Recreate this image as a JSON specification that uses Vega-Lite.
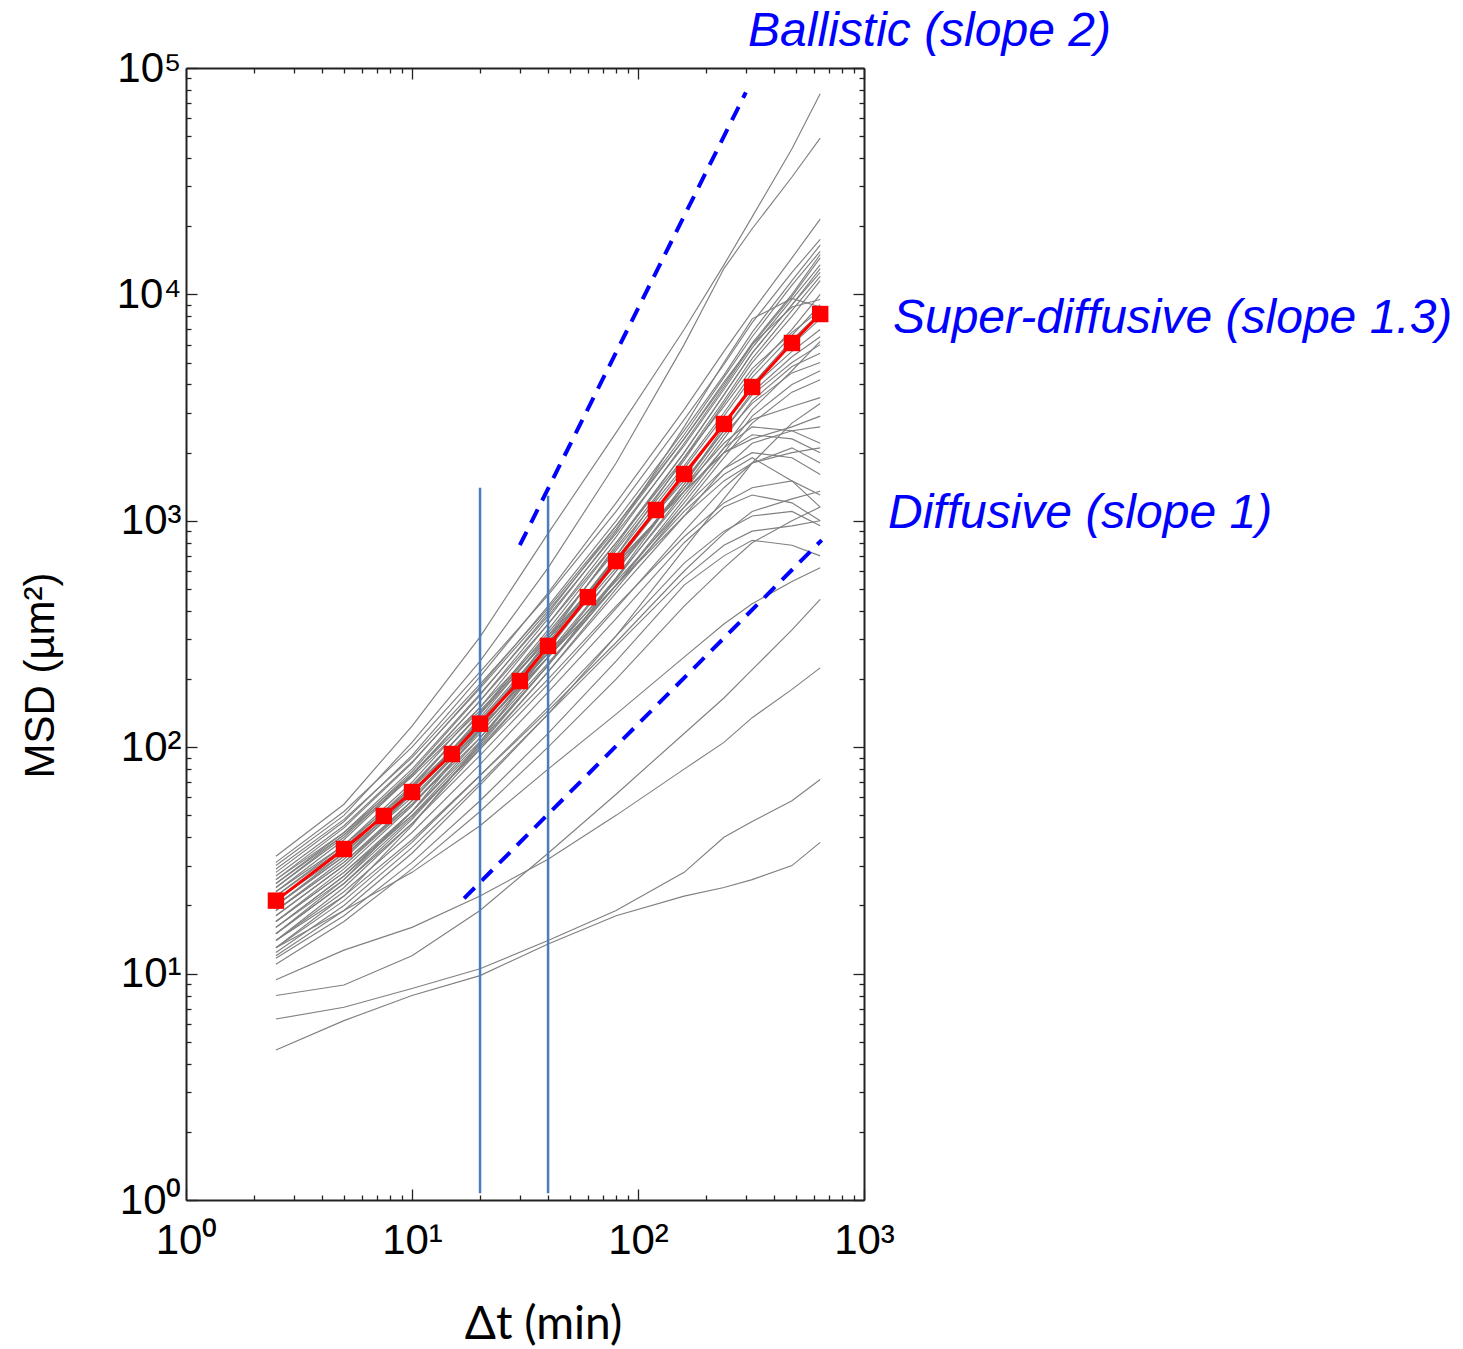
{
"$schema":"https://vega.github.io/schema/vega-lite/v6.json",
"width":678,"height":1132,
"autosize":{"type":"none"},
"padding":{"left":186,"top":68,"right":599,"bottom":149},
"background":"white",
"config":{"view":{"stroke":null},"axis":{"grid":false}},
"datasets":{
"traces":[
{"id":1,"t":2.5,"m":33},{"id":1,"t":5,"m":56},{"id":1,"t":10,"m":124},{"id":1,"t":20,"m":307},{"id":1,"t":40,"m":880},{"id":1,"t":80,"m":2450},{"id":1,"t":160,"m":7000},{"id":1,"t":240,"m":13500},{"id":1,"t":320,"m":22000},{"id":1,"t":480,"m":44000},{"id":1,"t":640,"m":77000},
{"id":2,"t":2.5,"m":30},{"id":2,"t":5,"m":50},{"id":2,"t":10,"m":105},{"id":2,"t":20,"m":240},{"id":2,"t":40,"m":620},{"id":2,"t":80,"m":1800},{"id":2,"t":160,"m":6000},{"id":2,"t":240,"m":13000},{"id":2,"t":320,"m":19500},{"id":2,"t":480,"m":33000},{"id":2,"t":640,"m":49000},
{"id":3,"t":2.5,"m":28},{"id":3,"t":5,"m":47},{"id":3,"t":10,"m":92},{"id":3,"t":20,"m":205},{"id":3,"t":40,"m":480},{"id":3,"t":80,"m":1200},{"id":3,"t":160,"m":3100},{"id":3,"t":240,"m":5600},{"id":3,"t":320,"m":8400},{"id":3,"t":480,"m":14500},{"id":3,"t":640,"m":21500},
{"id":4,"t":2.5,"m":31},{"id":4,"t":5,"m":52},{"id":4,"t":10,"m":100},{"id":4,"t":20,"m":215},{"id":4,"t":40,"m":470},{"id":4,"t":80,"m":1100},{"id":4,"t":160,"m":2800},{"id":4,"t":240,"m":4900},{"id":4,"t":320,"m":7500},{"id":4,"t":480,"m":12500},{"id":4,"t":640,"m":17500},
{"id":5,"t":2.5,"m":26},{"id":5,"t":5,"m":44},{"id":5,"t":10,"m":85},{"id":5,"t":20,"m":185},{"id":5,"t":40,"m":420},{"id":5,"t":80,"m":1000},{"id":5,"t":160,"m":2500},{"id":5,"t":240,"m":4400},{"id":5,"t":320,"m":6800},{"id":5,"t":480,"m":11500},{"id":5,"t":640,"m":16500},
{"id":6,"t":2.5,"m":24},{"id":6,"t":5,"m":41},{"id":6,"t":10,"m":78},{"id":6,"t":20,"m":170},{"id":6,"t":40,"m":390},{"id":6,"t":80,"m":950},{"id":6,"t":160,"m":2400},{"id":6,"t":240,"m":4300},{"id":6,"t":320,"m":6500},{"id":6,"t":480,"m":11000},{"id":6,"t":640,"m":15500},
{"id":7,"t":2.5,"m":29},{"id":7,"t":5,"m":48},{"id":7,"t":10,"m":90},{"id":7,"t":20,"m":190},{"id":7,"t":40,"m":410},{"id":7,"t":80,"m":950},{"id":7,"t":160,"m":2300},{"id":7,"t":240,"m":4000},{"id":7,"t":320,"m":6100},{"id":7,"t":480,"m":10000},{"id":7,"t":640,"m":15000},
{"id":8,"t":2.5,"m":22},{"id":8,"t":5,"m":37},{"id":8,"t":10,"m":70},{"id":8,"t":20,"m":150},{"id":8,"t":40,"m":350},{"id":8,"t":80,"m":850},{"id":8,"t":160,"m":2200},{"id":8,"t":240,"m":3900},{"id":8,"t":320,"m":6000},{"id":8,"t":480,"m":9800},{"id":8,"t":640,"m":14500},
{"id":9,"t":2.5,"m":25},{"id":9,"t":5,"m":42},{"id":9,"t":10,"m":80},{"id":9,"t":20,"m":172},{"id":9,"t":40,"m":380},{"id":9,"t":80,"m":880},{"id":9,"t":160,"m":2150},{"id":9,"t":240,"m":3800},{"id":9,"t":320,"m":5800},{"id":9,"t":480,"m":9500},{"id":9,"t":640,"m":13500},
{"id":10,"t":2.5,"m":20},{"id":10,"t":5,"m":34},{"id":10,"t":10,"m":66},{"id":10,"t":20,"m":142},{"id":10,"t":40,"m":330},{"id":10,"t":80,"m":800},{"id":10,"t":160,"m":2000},{"id":10,"t":240,"m":3600},{"id":10,"t":320,"m":5500},{"id":10,"t":480,"m":9000},{"id":10,"t":640,"m":12500},
{"id":11,"t":2.5,"m":27},{"id":11,"t":5,"m":45},{"id":11,"t":10,"m":86},{"id":11,"t":20,"m":182},{"id":11,"t":40,"m":400},{"id":11,"t":80,"m":920},{"id":11,"t":160,"m":2300},{"id":11,"t":240,"m":4100},{"id":11,"t":320,"m":6000},{"id":11,"t":480,"m":8800},{"id":11,"t":640,"m":9500},
{"id":12,"t":2.5,"m":23},{"id":12,"t":5,"m":39},{"id":12,"t":10,"m":75},{"id":12,"t":20,"m":160},{"id":12,"t":40,"m":370},{"id":12,"t":80,"m":900},{"id":12,"t":160,"m":2600},{"id":12,"t":240,"m":5000},{"id":12,"t":320,"m":7800},{"id":12,"t":480,"m":9600},{"id":12,"t":640,"m":8800},
{"id":13,"t":2.5,"m":19},{"id":13,"t":5,"m":32},{"id":13,"t":10,"m":62},{"id":13,"t":20,"m":135},{"id":13,"t":40,"m":310},{"id":13,"t":80,"m":760},{"id":13,"t":160,"m":1850},{"id":13,"t":240,"m":3300},{"id":13,"t":320,"m":5000},{"id":13,"t":480,"m":8000},{"id":13,"t":640,"m":11500},
{"id":14,"t":2.5,"m":21},{"id":14,"t":5,"m":35},{"id":14,"t":10,"m":67},{"id":14,"t":20,"m":140},{"id":14,"t":40,"m":320},{"id":14,"t":80,"m":740},{"id":14,"t":160,"m":1750},{"id":14,"t":240,"m":3000},{"id":14,"t":320,"m":4500},{"id":14,"t":480,"m":7000},{"id":14,"t":640,"m":10000},
{"id":15,"t":2.5,"m":18},{"id":15,"t":5,"m":30},{"id":15,"t":10,"m":58},{"id":15,"t":20,"m":125},{"id":15,"t":40,"m":290},{"id":15,"t":80,"m":700},{"id":15,"t":160,"m":1700},{"id":15,"t":240,"m":2900},{"id":15,"t":320,"m":4300},{"id":15,"t":480,"m":6600},{"id":15,"t":640,"m":9000},
{"id":16,"t":2.5,"m":24},{"id":16,"t":5,"m":40},{"id":16,"t":10,"m":76},{"id":16,"t":20,"m":160},{"id":16,"t":40,"m":350},{"id":16,"t":80,"m":800},{"id":16,"t":160,"m":1900},{"id":16,"t":240,"m":3200},{"id":16,"t":320,"m":4700},{"id":16,"t":480,"m":6800},{"id":16,"t":640,"m":8500},
{"id":17,"t":2.5,"m":17},{"id":17,"t":5,"m":29},{"id":17,"t":10,"m":55},{"id":17,"t":20,"m":118},{"id":17,"t":40,"m":270},{"id":17,"t":80,"m":650},{"id":17,"t":160,"m":1550},{"id":17,"t":240,"m":2700},{"id":17,"t":320,"m":4000},{"id":17,"t":480,"m":6000},{"id":17,"t":640,"m":7800},
{"id":18,"t":2.5,"m":20},{"id":18,"t":5,"m":33},{"id":18,"t":10,"m":63},{"id":18,"t":20,"m":132},{"id":18,"t":40,"m":290},{"id":18,"t":80,"m":680},{"id":18,"t":160,"m":1600},{"id":18,"t":240,"m":2700},{"id":18,"t":320,"m":3900},{"id":18,"t":480,"m":5600},{"id":18,"t":640,"m":7000},
{"id":19,"t":2.5,"m":16},{"id":19,"t":5,"m":27},{"id":19,"t":10,"m":52},{"id":19,"t":20,"m":110},{"id":19,"t":40,"m":250},{"id":19,"t":80,"m":600},{"id":19,"t":160,"m":1450},{"id":19,"t":240,"m":2500},{"id":19,"t":320,"m":3700},{"id":19,"t":480,"m":5300},{"id":19,"t":640,"m":6500},
{"id":20,"t":2.5,"m":22},{"id":20,"t":5,"m":36},{"id":20,"t":10,"m":68},{"id":20,"t":20,"m":140},{"id":20,"t":40,"m":300},{"id":20,"t":80,"m":680},{"id":20,"t":160,"m":1500},{"id":20,"t":240,"m":2500},{"id":20,"t":320,"m":3600},{"id":20,"t":480,"m":5000},{"id":20,"t":640,"m":6000},
{"id":21,"t":2.5,"m":15},{"id":21,"t":5,"m":25},{"id":21,"t":10,"m":48},{"id":21,"t":20,"m":102},{"id":21,"t":40,"m":230},{"id":21,"t":80,"m":550},{"id":21,"t":160,"m":1350},{"id":21,"t":240,"m":2300},{"id":21,"t":320,"m":3400},{"id":21,"t":480,"m":4800},{"id":21,"t":640,"m":5500},
{"id":22,"t":2.5,"m":19},{"id":22,"t":5,"m":31},{"id":22,"t":10,"m":58},{"id":22,"t":20,"m":120},{"id":22,"t":40,"m":260},{"id":22,"t":80,"m":600},{"id":22,"t":160,"m":1400},{"id":22,"t":240,"m":2400},{"id":22,"t":320,"m":3300},{"id":22,"t":480,"m":4500},{"id":22,"t":640,"m":5000},
{"id":23,"t":2.5,"m":17},{"id":23,"t":5,"m":28},{"id":23,"t":10,"m":52},{"id":23,"t":20,"m":106},{"id":23,"t":40,"m":230},{"id":23,"t":80,"m":520},{"id":23,"t":160,"m":1200},{"id":23,"t":240,"m":2000},{"id":23,"t":320,"m":2900},{"id":23,"t":480,"m":4000},{"id":23,"t":640,"m":4600},
{"id":24,"t":2.5,"m":14},{"id":24,"t":5,"m":24},{"id":24,"t":10,"m":46},{"id":24,"t":20,"m":98},{"id":24,"t":40,"m":215},{"id":24,"t":80,"m":500},{"id":24,"t":160,"m":1150},{"id":24,"t":240,"m":1900},{"id":24,"t":320,"m":2700},{"id":24,"t":480,"m":3700},{"id":24,"t":640,"m":4200},
{"id":25,"t":2.5,"m":21},{"id":25,"t":5,"m":35},{"id":25,"t":10,"m":64},{"id":25,"t":20,"m":130},{"id":25,"t":40,"m":280},{"id":25,"t":80,"m":620},{"id":25,"t":160,"m":1400},{"id":25,"t":240,"m":2200},{"id":25,"t":320,"m":2800},{"id":25,"t":480,"m":3200},{"id":25,"t":640,"m":3500},
{"id":26,"t":2.5,"m":18},{"id":26,"t":5,"m":30},{"id":26,"t":10,"m":56},{"id":26,"t":20,"m":115},{"id":26,"t":40,"m":250},{"id":26,"t":80,"m":560},{"id":26,"t":160,"m":1300},{"id":26,"t":240,"m":2100},{"id":26,"t":320,"m":2600},{"id":26,"t":480,"m":2500},{"id":26,"t":640,"m":2200},
{"id":27,"t":2.5,"m":16},{"id":27,"t":5,"m":26},{"id":27,"t":10,"m":49},{"id":27,"t":20,"m":100},{"id":27,"t":40,"m":215},{"id":27,"t":80,"m":480},{"id":27,"t":160,"m":1050},{"id":27,"t":240,"m":1700},{"id":27,"t":320,"m":2200},{"id":27,"t":480,"m":2500},{"id":27,"t":640,"m":2600},
{"id":28,"t":2.5,"m":20},{"id":28,"t":5,"m":33},{"id":28,"t":10,"m":60},{"id":28,"t":20,"m":120},{"id":28,"t":40,"m":250},{"id":28,"t":80,"m":520},{"id":28,"t":160,"m":1050},{"id":28,"t":240,"m":1500},{"id":28,"t":320,"m":1800},{"id":28,"t":480,"m":2000},{"id":28,"t":640,"m":2100},
{"id":29,"t":2.5,"m":15},{"id":29,"t":5,"m":25},{"id":29,"t":10,"m":46},{"id":29,"t":20,"m":92},{"id":29,"t":40,"m":190},{"id":29,"t":80,"m":410},{"id":29,"t":160,"m":900},{"id":29,"t":240,"m":1400},{"id":29,"t":320,"m":1800},{"id":29,"t":480,"m":2100},{"id":29,"t":640,"m":1800},
{"id":30,"t":2.5,"m":17},{"id":30,"t":5,"m":28},{"id":30,"t":10,"m":50},{"id":30,"t":20,"m":98},{"id":30,"t":40,"m":200},{"id":30,"t":80,"m":420},{"id":30,"t":160,"m":850},{"id":30,"t":240,"m":1200},{"id":30,"t":320,"m":1400},{"id":30,"t":480,"m":1500},{"id":30,"t":640,"m":1300},
{"id":31,"t":2.5,"m":14},{"id":31,"t":5,"m":23},{"id":31,"t":10,"m":42},{"id":31,"t":20,"m":84},{"id":31,"t":40,"m":175},{"id":31,"t":80,"m":370},{"id":31,"t":160,"m":800},{"id":31,"t":240,"m":1150},{"id":31,"t":320,"m":1300},{"id":31,"t":480,"m":1200},{"id":31,"t":640,"m":1000},
{"id":32,"t":2.5,"m":13},{"id":32,"t":5,"m":21},{"id":32,"t":10,"m":38},{"id":32,"t":20,"m":75},{"id":32,"t":40,"m":150},{"id":32,"t":80,"m":310},{"id":32,"t":160,"m":650},{"id":32,"t":240,"m":900},{"id":32,"t":320,"m":1050},{"id":32,"t":480,"m":1100},{"id":32,"t":640,"m":950},
{"id":33,"t":2.5,"m":12.4},{"id":33,"t":5,"m":20},{"id":33,"t":10,"m":36},{"id":33,"t":20,"m":70},{"id":33,"t":40,"m":140},{"id":33,"t":80,"m":280},{"id":33,"t":160,"m":560},{"id":33,"t":240,"m":780},{"id":33,"t":320,"m":900},{"id":33,"t":480,"m":950},{"id":33,"t":640,"m":1000},
{"id":34,"t":2.5,"m":11.7},{"id":34,"t":5,"m":18},{"id":34,"t":10,"m":31},{"id":34,"t":20,"m":58},{"id":34,"t":40,"m":115},{"id":34,"t":80,"m":240},{"id":34,"t":160,"m":520},{"id":34,"t":240,"m":700},{"id":34,"t":320,"m":820},{"id":34,"t":480,"m":780},{"id":34,"t":640,"m":700},
{"id":35,"t":2.5,"m":14},{"id":35,"t":5,"m":22},{"id":35,"t":10,"m":39},{"id":35,"t":20,"m":75},{"id":35,"t":40,"m":145},{"id":35,"t":80,"m":290},{"id":35,"t":160,"m":600},{"id":35,"t":240,"m":880},{"id":35,"t":320,"m":1100},{"id":35,"t":480,"m":1250},{"id":35,"t":640,"m":1350},
{"id":36,"t":2.5,"m":9.4},{"id":36,"t":5,"m":12.7},{"id":36,"t":10,"m":16},{"id":36,"t":20,"m":22},{"id":36,"t":40,"m":32},{"id":36,"t":80,"m":50},{"id":36,"t":160,"m":80},{"id":36,"t":240,"m":105},{"id":36,"t":320,"m":135},{"id":36,"t":480,"m":180},{"id":36,"t":640,"m":224},
{"id":37,"t":2.5,"m":8.0},{"id":37,"t":5,"m":8.9},{"id":37,"t":10,"m":12},{"id":37,"t":20,"m":19},{"id":37,"t":40,"m":34},{"id":37,"t":80,"m":62},{"id":37,"t":160,"m":115},{"id":37,"t":240,"m":165},{"id":37,"t":320,"m":220},{"id":37,"t":480,"m":330},{"id":37,"t":640,"m":450},
{"id":38,"t":2.5,"m":6.3},{"id":38,"t":5,"m":7.1},{"id":38,"t":10,"m":8.6},{"id":38,"t":20,"m":10.5},{"id":38,"t":40,"m":14},{"id":38,"t":80,"m":19},{"id":38,"t":160,"m":28},{"id":38,"t":240,"m":40},{"id":38,"t":320,"m":47},{"id":38,"t":480,"m":58},{"id":38,"t":640,"m":72},
{"id":39,"t":2.5,"m":4.6},{"id":39,"t":5,"m":6.2},{"id":39,"t":10,"m":8.0},{"id":39,"t":20,"m":9.8},{"id":39,"t":40,"m":13.5},{"id":39,"t":80,"m":18},{"id":39,"t":160,"m":22},{"id":39,"t":240,"m":24},{"id":39,"t":320,"m":26},{"id":39,"t":480,"m":30},{"id":39,"t":640,"m":38},
{"id":40,"t":2.5,"m":13},{"id":40,"t":5,"m":19},{"id":40,"t":10,"m":28},{"id":40,"t":20,"m":45},{"id":40,"t":40,"m":80},{"id":40,"t":80,"m":140},{"id":40,"t":160,"m":250},{"id":40,"t":240,"m":350},{"id":40,"t":320,"m":430},{"id":40,"t":480,"m":540},{"id":40,"t":640,"m":620},
{"id":41,"t":2.5,"m":15},{"id":41,"t":5,"m":26},{"id":41,"t":10,"m":52},{"id":41,"t":20,"m":120},{"id":41,"t":40,"m":300},{"id":41,"t":80,"m":780},{"id":41,"t":160,"m":2000},{"id":41,"t":240,"m":3600},{"id":41,"t":320,"m":5500},{"id":41,"t":480,"m":9000},{"id":41,"t":640,"m":13000},
{"id":42,"t":2.5,"m":13},{"id":42,"t":5,"m":22},{"id":42,"t":10,"m":45},{"id":42,"t":20,"m":105},{"id":42,"t":40,"m":270},{"id":42,"t":80,"m":700},{"id":42,"t":160,"m":1900},{"id":42,"t":240,"m":3400},{"id":42,"t":320,"m":5200},{"id":42,"t":480,"m":8500},{"id":42,"t":640,"m":12000},
{"id":43,"t":2.5,"m":26},{"id":43,"t":5,"m":42},{"id":43,"t":10,"m":76},{"id":43,"t":20,"m":150},{"id":43,"t":40,"m":310},{"id":43,"t":80,"m":650},{"id":43,"t":160,"m":1350},{"id":43,"t":240,"m":2000},{"id":43,"t":320,"m":2300},{"id":43,"t":480,"m":2600},{"id":43,"t":640,"m":2900},
{"id":44,"t":2.5,"m":23},{"id":44,"t":5,"m":37},{"id":44,"t":10,"m":66},{"id":44,"t":20,"m":128},{"id":44,"t":40,"m":260},{"id":44,"t":80,"m":540},{"id":44,"t":160,"m":1150},{"id":44,"t":240,"m":1700},{"id":44,"t":320,"m":2000},{"id":44,"t":480,"m":1900},{"id":44,"t":640,"m":1600},
{"id":45,"t":2.5,"m":12},{"id":45,"t":5,"m":19},{"id":45,"t":10,"m":34},{"id":45,"t":20,"m":68},{"id":45,"t":40,"m":140},{"id":45,"t":80,"m":310},{"id":45,"t":160,"m":750},{"id":45,"t":240,"m":1250},{"id":45,"t":320,"m":1800},{"id":45,"t":480,"m":2700},{"id":45,"t":640,"m":3300},
{"id":46,"t":2.5,"m":19},{"id":46,"t":5,"m":31},{"id":46,"t":10,"m":56},{"id":46,"t":20,"m":110},{"id":46,"t":40,"m":235},{"id":46,"t":80,"m":520},{"id":46,"t":160,"m":1250},{"id":46,"t":240,"m":2100},{"id":46,"t":320,"m":3100},{"id":46,"t":480,"m":4600},{"id":46,"t":640,"m":6200},
{"id":47,"t":2.5,"m":25},{"id":47,"t":5,"m":41},{"id":47,"t":10,"m":74},{"id":47,"t":20,"m":145},{"id":47,"t":40,"m":300},{"id":47,"t":80,"m":640},{"id":47,"t":160,"m":1350},{"id":47,"t":240,"m":2000},{"id":47,"t":320,"m":2400},{"id":47,"t":480,"m":2300},{"id":47,"t":640,"m":2000},
{"id":48,"t":2.5,"m":16},{"id":48,"t":5,"m":27},{"id":48,"t":10,"m":50},{"id":48,"t":20,"m":104},{"id":48,"t":40,"m":230},{"id":48,"t":80,"m":560},{"id":48,"t":160,"m":1450},{"id":48,"t":240,"m":2600},{"id":48,"t":320,"m":4000},{"id":48,"t":480,"m":6300},{"id":48,"t":640,"m":8300},
{"id":49,"t":2.5,"m":11},{"id":49,"t":5,"m":17},{"id":49,"t":10,"m":29},{"id":49,"t":20,"m":52},{"id":49,"t":40,"m":100},{"id":49,"t":80,"m":200},{"id":49,"t":160,"m":420},{"id":49,"t":240,"m":620},{"id":49,"t":320,"m":800},{"id":49,"t":480,"m":1000},{"id":49,"t":640,"m":1150},
{"id":50,"t":2.5,"m":21},{"id":50,"t":5,"m":34},{"id":50,"t":10,"m":62},{"id":50,"t":20,"m":122},{"id":50,"t":40,"m":250},{"id":50,"t":80,"m":520},{"id":50,"t":160,"m":1100},{"id":50,"t":240,"m":1600},{"id":50,"t":320,"m":1900},{"id":50,"t":480,"m":1500},{"id":50,"t":640,"m":1150}
],
"mean":[
{"t":2.5,"m":21},{"t":5,"m":35.5},{"t":7.5,"m":49.7},{"t":10,"m":63.4},{"t":15,"m":93.3},{"t":20,"m":127},{"t":30,"m":196},{"t":40,"m":280},{"t":60,"m":460},{"t":80,"m":664},{"t":120,"m":1116},{"t":160,"m":1610},{"t":240,"m":2678},{"t":320,"m":3900},{"t":480,"m":6100},{"t":640,"m":8190}
],
"guides":[
{"g":"ballistic","t":30,"m":780},{"g":"ballistic","t":300,"m":78000},
{"g":"diffusive","t":17,"m":21.5},{"g":"diffusive","t":650,"m":822}
],
"vlines":[
{"t":20,"lo":1.07,"hi":1400},{"t":40,"lo":1.07,"hi":1290}
],
"labels":[
{"label":"Ballistic (slope 2)","t":307,"m":125000},
{"label":"Super-diffusive (slope 1.3)","t":1343,"m":6750},
{"label":"Diffusive (slope 1)","t":1277,"m":929}
]
},
"resolve":{"axis":{"x":"independent","y":"independent"}},
"layer":[
{
"data":{"name":"traces"},
"mark":{"type":"line","color":"#808080","strokeWidth":1.15,"clip":true},
"encoding":{
"x":{"field":"t","type":"quantitative","scale":{"type":"log","domain":[1,1000],"nice":false},
"axis":{"orient":"bottom","values":[1,2,3,4,5,6,7,8,9,10,20,30,40,50,60,70,80,90,100,200,300,400,500,600,700,800,900,1000],
"tickSize":{"condition":{"test":"abs(log(datum.value)/LN10 - round(log(datum.value)/LN10)) < 0.001","value":-11},"value":-5},
"tickColor":"#222","tickWidth":1.3,"domainColor":"#222","domainWidth":2,
"labelExpr":"abs(log(datum.value)/LN10 - round(log(datum.value)/LN10)) < 0.001 ? '10' + ['⁰','¹','²','³','⁴','⁵'][round(log(datum.value)/LN10)] : ''",
"labelFont":"Liberation Sans","labelFontSize":42,"labelColor":"#000","labelPadding":31,"labelOverlap":false,"labelFlush":false,
"title":"Δt (min)","titleFont":"Lato","titleFontSize":46,"titleFontWeight":"normal","titleColor":"#000","titleX":357,"titleY":124,"titleAlign":"center","titleBaseline":"middle"}},
"y":{"field":"m","type":"quantitative","scale":{"type":"log","domain":[1,100000],"nice":false},
"axis":{"orient":"left","values":[1,2,3,4,5,6,7,8,9,10,20,30,40,50,60,70,80,90,100,200,300,400,500,600,700,800,900,1000,2000,3000,4000,5000,6000,7000,8000,9000,10000,20000,30000,40000,50000,60000,70000,80000,90000,100000],
"tickSize":{"condition":{"test":"abs(log(datum.value)/LN10 - round(log(datum.value)/LN10)) < 0.001","value":-11},"value":-5},
"tickColor":"#222","tickWidth":1.3,"domainColor":"#222","domainWidth":2,
"labelExpr":"abs(log(datum.value)/LN10 - round(log(datum.value)/LN10)) < 0.001 ? '10' + ['⁰','¹','²','³','⁴','⁵'][round(log(datum.value)/LN10)] : ''",
"labelFont":"Liberation Sans","labelFontSize":42,"labelColor":"#000","labelPadding":16,"labelOverlap":false,"labelFlush":false,
"title":"MSD (µm²)","titleFont":"Liberation Sans","titleFontSize":42,"titleFontWeight":"normal","titleColor":"#000","titleX":-146,"titleY":607,"titleAngle":-90,"titleAlign":"center","titleBaseline":"middle"}},
"detail":{"field":"id","type":"nominal"}
}
},
{
"data":{"name":"guides"},
"mark":{"type":"line","color":"#0000ff","strokeWidth":4,"strokeDash":[15,10]},
"encoding":{
"x":{"field":"t","type":"quantitative","scale":{"type":"log","domain":[1,1000],"nice":false},
"axis":{"orient":"top","values":[1,2,3,4,5,6,7,8,9,10,20,30,40,50,60,70,80,90,100,200,300,400,500,600,700,800,900,1000],
"tickSize":{"condition":{"test":"abs(log(datum.value)/LN10 - round(log(datum.value)/LN10)) < 0.001","value":-11},"value":-5},
"tickColor":"#222","tickWidth":1.3,"domainColor":"#222","domainWidth":2,"labels":false,"title":null}},
"y":{"field":"m","type":"quantitative","scale":{"type":"log","domain":[1,100000],"nice":false},
"axis":{"orient":"right","values":[1,2,3,4,5,6,7,8,9,10,20,30,40,50,60,70,80,90,100,200,300,400,500,600,700,800,900,1000,2000,3000,4000,5000,6000,7000,8000,9000,10000,20000,30000,40000,50000,60000,70000,80000,90000,100000],
"tickSize":{"condition":{"test":"abs(log(datum.value)/LN10 - round(log(datum.value)/LN10)) < 0.001","value":-11},"value":-5},
"tickColor":"#222","tickWidth":1.3,"domainColor":"#222","domainWidth":2,"labels":false,"title":null}},
"detail":{"field":"g","type":"nominal"}
}
},
{
"data":{"name":"vlines"},
"mark":{"type":"rule","color":"#4a7ebb","strokeWidth":2.5},
"encoding":{
"x":{"field":"t","type":"quantitative","scale":{"type":"log","domain":[1,1000],"nice":false},"axis":null},
"y":{"field":"lo","type":"quantitative","scale":{"type":"log","domain":[1,100000],"nice":false},"axis":null},
"y2":{"field":"hi"}
}
},
{
"data":{"name":"mean"},
"mark":{"type":"line","color":"#ff0000","strokeWidth":3},
"encoding":{
"x":{"field":"t","type":"quantitative","scale":{"type":"log","domain":[1,1000],"nice":false},"axis":null},
"y":{"field":"m","type":"quantitative","scale":{"type":"log","domain":[1,100000],"nice":false},"axis":null}
}
},
{
"data":{"name":"mean"},
"mark":{"type":"point","shape":"square","filled":true,"color":"#ff0000","opacity":1,"size":270},
"encoding":{
"x":{"field":"t","type":"quantitative","scale":{"type":"log","domain":[1,1000],"nice":false},"axis":null},
"y":{"field":"m","type":"quantitative","scale":{"type":"log","domain":[1,100000],"nice":false},"axis":null}
}
},
{
"data":{"name":"labels"},
"mark":{"type":"text","font":"Liberation Sans","fontStyle":"italic","fontSize":48,"color":"#0000ff","align":"left","baseline":"alphabetic"},
"encoding":{
"x":{"field":"t","type":"quantitative","scale":{"type":"log","domain":[1,1000],"nice":false},"axis":null},
"y":{"field":"m","type":"quantitative","scale":{"type":"log","domain":[1,100000],"nice":false},"axis":null},
"text":{"field":"label","type":"nominal"}
}
}
]
}
